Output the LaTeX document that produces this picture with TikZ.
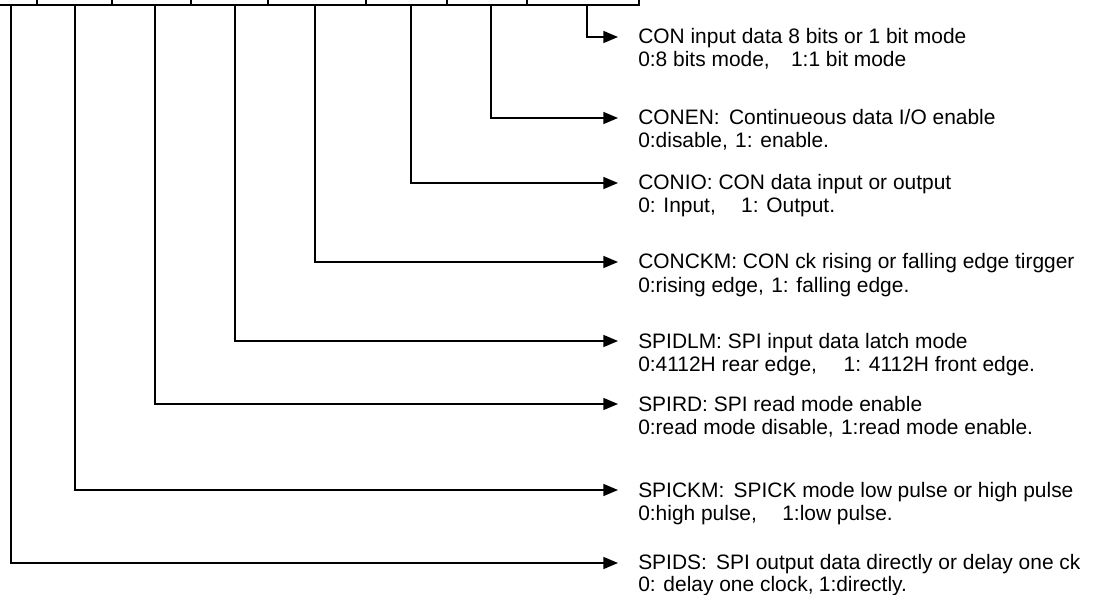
\documentclass[tikz,border=0pt]{standalone}
\usepackage{fontspec}
\setmainfont{Liberation Sans}
\usetikzlibrary{arrows.meta}
\begin{document}
\begin{tikzpicture}[x=0.75pt,y=-0.75pt,
  conn/.style={line width=1.1pt,-{Triangle[length=11pt,width=9pt]}},
  bus/.style={line width=1.5pt},
  desc/.style={anchor=base west,inner sep=0pt,font=\fontsize{15.7}{17}\selectfont}]
\useasboundingbox (0,0) rectangle (1099,595);
% register row (cut off at top)
\draw[bus] (0,5) -- (639,5) -- (639,0);
\foreach \x in {37,112,191,268,366,447,527} \draw[bus] (\x,0) -- (\x,5);
% bit positions
\coordinate (b1) at (11,5);
\coordinate (b2) at (75,5);
\coordinate (b3) at (155,5);
\coordinate (b4) at (235,5);
\coordinate (b5) at (315,5);
\coordinate (b6) at (411,5);
\coordinate (b7) at (491,5);
\coordinate (b8) at (587,5);
% arrow tips
\coordinate (t8) at (618,37);
\coordinate (t7) at (618,118);
\coordinate (t6) at (618,183);
\coordinate (t5) at (618,262);
\coordinate (t4) at (618,341);
\coordinate (t3) at (618,404);
\coordinate (t2) at (618,490);
\coordinate (t1) at (618,563);
% descriptions
\node[desc] (d8a) at (638,44) {CON input data 8 bits or 1 bit mode};
\node[desc] (d8b) at (638,67) {0:8 bits mode,\hspace{16pt}1:1 bit mode};
\node[desc] (d7a) at (638,125) {CONEN:\hspace{7pt}Continueous data I/O enable};
\node[desc] (d7b) at (638,148) {0:disable,\hspace{5.5pt}1: enable.};
\node[desc] (d6a) at (638,190) {CONIO: CON data input or output};
\node[desc] (d6b) at (638,213) {0: Input,\hspace{19pt}1: Output.};
\node[desc] (d5a) at (638,269) {CONCKM: CON ck rising or falling edge tirgger};
\node[desc] (d5b) at (638,292) {0:rising edge,\hspace{5.5pt}1: falling edge.};
\node[desc] (d4a) at (638,348) {SPIDLM: SPI input data latch mode};
\node[desc] (d4b) at (638,371) {0:4112H rear edge,\hspace{20pt}1: 4112H front edge.};
\node[desc] (d3a) at (638,411) {SPIRD: SPI read mode enable};
\node[desc] (d3b) at (638,434) {0:read mode disable,\hspace{5.5pt}1:read mode enable.};
\node[desc] (d2a) at (638,497) {SPICKM:\hspace{7pt}SPICK mode low pulse or high pulse};
\node[desc] (d2b) at (638,520) {0:high pulse,\hspace{19pt}1:low pulse.};
\node[desc] (d1a) at (638,569) {SPIDS:\hspace{7pt}SPI output data directly or delay one ck};
\node[desc] (d1b) at (638,591) {0: delay one clock,\hspace{4pt}1:directly.};
% connectors
\draw[conn] (b8) |- (t8);
\draw[conn] (b7) |- (t7);
\draw[conn] (b6) |- (t6);
\draw[conn] (b5) |- (t5);
\draw[conn] (b4) |- (t4);
\draw[conn] (b3) |- (t3);
\draw[conn] (b2) |- (t2);
\draw[conn] (b1) |- (t1);
\end{tikzpicture}
\end{document}
